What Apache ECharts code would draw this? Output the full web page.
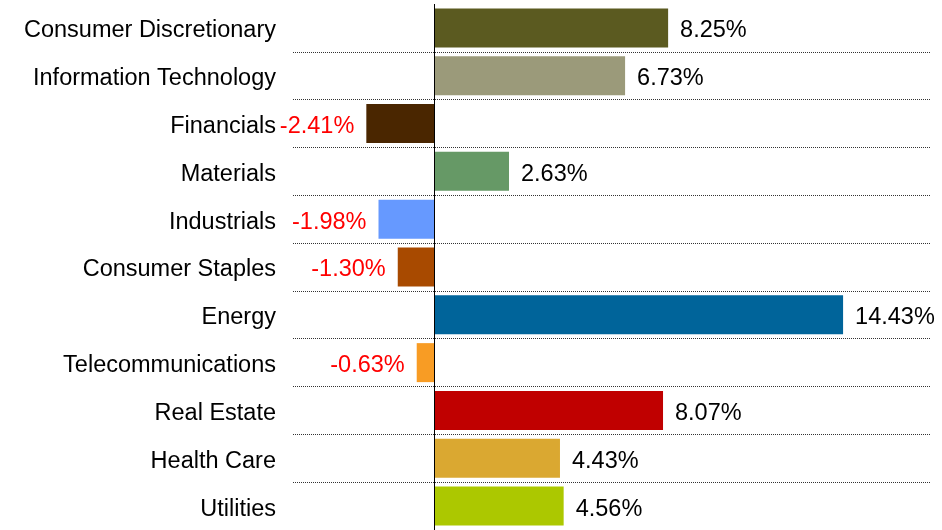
<!DOCTYPE html>
<html>
<head>
<meta charset="utf-8">
<script src="https://cdn.jsdelivr.net/npm/echarts@6/dist/echarts.min.js"></script>
<style>html,body{margin:0;padding:0;background:#fff;}#c{width:942px;height:530px;}</style>
</head>
<body>
<div id="c"></div>
<script>
const categories = ["Consumer Discretionary","Information Technology","Financials","Materials","Industrials","Consumer Staples","Energy","Telecommunications","Real Estate","Health Care","Utilities"];
const values = [8.25, 6.73, -2.41, 2.63, -1.98, -1.30, 14.43, -0.63, 8.07, 4.43, 4.56];
const colors = ["#5b5a20","#9b9a7a","#4a2600","#669966","#6699ff","#a84a00","#00649a","#f89c24","#c00000","#daa831","#acc800"];

const FONT = "'Liberation Sans', Arial, sans-serif";
const FS = 23.5;
const chart = echarts.init(document.getElementById('c'));
chart.setOption({
  animation: false,
  backgroundColor: '#fff',
  grid: { left: 293, right: 12, top: 4, height: 528, containLabel: false },
  xAxis: {
    type: 'value', min: -5, max: 17.5, show: false
  },
  yAxis: {
    type: 'category', inverse: true, data: categories,
    axisLine: { show: false }, axisTick: { show: false },
    axisLabel: {
      margin: 17, color: '#000', fontSize: FS, fontFamily: FONT,
      formatter: (v) => '{a|' + v + '}',
      rich: { a: { color: '#000', fontSize: FS, fontFamily: FONT, padding: [6, 0, 0, 0] } }
    },
    splitLine: { show: true, interval: function (i) { return i !== 0; },
      lineStyle: { color: '#333', width: 1, type: [1, 1] } }
  },
  series: [{
    type: 'bar', barWidth: 39,
    data: values.map((v, i) => ({
      value: v,
      itemStyle: { color: colors[i] },
      label: {
        show: true,
        position: v < 0 ? 'left' : 'right',
        distance: 12,
        offset: [0, 3],
        color: v < 0 ? '#ff0000' : '#000',
        fontSize: FS, fontFamily: FONT,
        formatter: (p) => p.value.toFixed(2) + '%'
      }
    })),
    markLine: {
      silent: true, symbol: 'none', animation: false,
      label: { show: false },
      lineStyle: { color: '#000', width: 1, type: 'solid' },
      data: [{ xAxis: 0 }]
    }
  }]
});
</script>
</body>
</html>
